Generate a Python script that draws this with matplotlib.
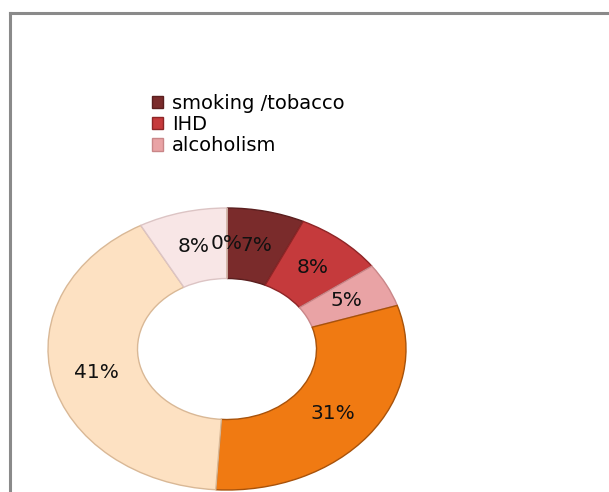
import matplotlib
matplotlib.use("Agg")
import matplotlib.pyplot as plt
from matplotlib.lines import Line2D
from matplotlib.patches import Patch

plt.rcParams["font.family"] = ["DejaVu Sans"]

# slices clockwise from 12 o'clock; only the first three are named in the legend
categories = ["smoking /tobacco", "IHD", "alcoholism", "", "", "", ""]
values = [7, 8, 5, 31, 41, 8, 0]
colors = ["#7A2B2B", "#C53A3C", "#E9A3A5", "#F07A12", "#FDE1C2", "#F8E6E6", "#F3D6C8"]
edges = ["#5A1E1E", "#8E2526", "#C98688", "#A8520A", "#D9B896", "#DCC4C4", "#D0B0A0"]

W, H = 609, 492
fig = plt.figure(figsize=(W / 100, H / 100), dpi=100)

# frame of the pasted picture
fig.add_artist(Line2D([10 / W, 1.0], [1 - 13 / H, 1 - 13 / H], color="#8A8A8A", lw=2.2))
fig.add_artist(Line2D([10 / W, 10 / W], [1 - 13 / H, 0], color="#8A8A8A", lw=2.2))

ax = fig.add_axes([48 / W, 2 / H, 358 / W, 282 / H])
wedges, texts, autotexts = ax.pie(
    values,
    colors=colors,
    startangle=90,
    counterclock=False,
    radius=1.0,
    autopct="%d%%",
    pctdistance=0.75,
    wedgeprops=dict(width=0.5, linewidth=1.0),
    textprops=dict(fontsize=14.5, color="#111111"),
)
for w, ec in zip(wedges, edges):
    w.set_edgecolor(ec)
ax.set_aspect("auto")
ax.set_xlim(-1.0, 1.0)
ax.set_ylim(-1.0, 1.0)
ax.axis("off")

handles = [Patch(facecolor=colors[i], edgecolor=edges[i]) for i in range(3)]
fig.legend(
    handles,
    categories[:3],
    loc="upper left",
    bbox_to_anchor=(142 / W, 1 - 84 / H),
    frameon=False,
    fontsize=14,
    handlelength=0.6,
    handleheight=0.6,
    handletextpad=0.45,
    labelspacing=0.12,
    borderpad=0,
)

fig.savefig("out.png", dpi=100, facecolor="white")
